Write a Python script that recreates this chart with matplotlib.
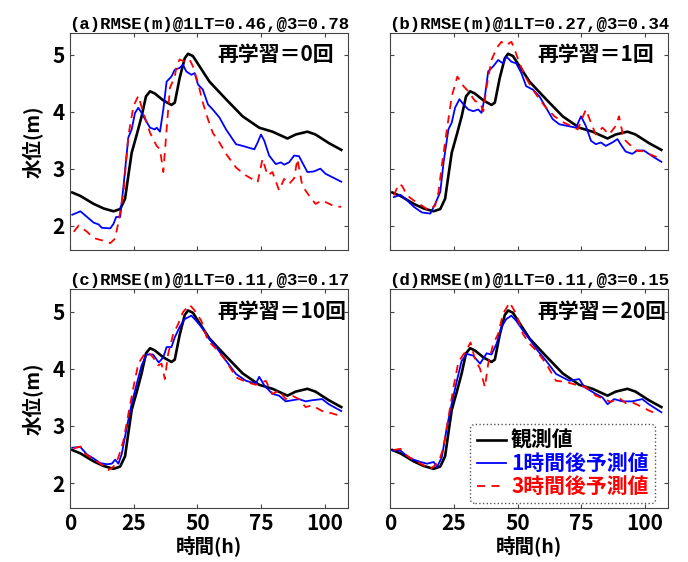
import numpy as np
import matplotlib.pyplot as plt

plt.rcParams['font.family'] = ['Noto Sans CJK JP', 'DejaVu Sans']

# observed water level (same in every panel)
t_obs = [0.9, 4.1, 9.3, 13.2, 17.1, 19.7, 21.6, 22.9, 24.2, 26.2, 28.1, 29.8, 31.4, 33.3,
         36.6, 39.8, 41.1, 43.0, 45.0, 46.3, 48.2, 50.8, 54.7, 61.2, 67.7, 74.2, 79.4,
         85.3, 88.5, 93.1, 96.3, 101.5, 106.4]
h_obs = [2.58, 2.52, 2.38, 2.30, 2.25, 2.29, 2.47, 2.88, 3.28, 3.60, 3.92, 4.27, 4.36, 4.32,
         4.20, 4.12, 4.16, 4.59, 4.94, 5.02, 4.98, 4.80, 4.53, 4.22, 3.92, 3.72, 3.65,
         3.53, 3.60, 3.65, 3.60, 3.45, 3.33]

# (a) retrain = 0
t_a1 = [0.9, 4.1, 6.7, 9.3, 11.2, 12.5, 15.8, 17.1, 18.1, 19.7, 21.0, 22.9, 24.2, 25.5, 26.8,
        28.1, 29.8, 31.4, 33.3, 34.0, 35.3, 36.6, 37.9, 39.8, 41.1, 43.0, 44.3, 45.6, 47.6,
        48.9, 50.2, 52.1, 54.1, 56.0, 58.6, 61.2, 65.1, 67.7, 72.3, 73.6, 74.9, 76.2, 78.1,
        80.7, 82.7, 84.0, 85.9, 87.9, 89.8, 93.1, 95.6, 98.2, 100.2, 106.4]
h_a1 = [2.19, 2.25, 2.15, 2.05, 2.02, 1.96, 1.95, 2.03, 2.15, 2.15, 2.70, 3.55, 3.69, 3.98, 4.07,
        3.98, 3.84, 3.72, 3.69, 3.72, 3.65, 4.04, 4.53, 4.62, 4.74, 4.77, 4.83, 4.71, 4.65,
        4.68, 4.48, 4.39, 4.13, 4.04, 3.90, 3.69, 3.43, 3.40, 3.34, 3.46, 3.60, 3.49, 3.23,
        3.08, 3.11, 3.07, 3.11, 3.23, 3.22, 2.94, 2.95, 3.00, 2.91, 2.77]
t_a3 = [1.5, 3.4, 6.7, 9.3, 12.5, 15.8, 17.7, 19.0, 21.0, 22.9, 24.9, 26.8, 28.8, 31.4, 34.0,
        35.3, 36.6, 37.9, 39.2, 41.1, 41.8, 43.0, 45.0, 46.9, 48.2, 50.2, 52.1, 54.1, 56.0,
        58.6, 61.2, 65.1, 69.0, 73.6, 75.5, 77.5, 79.4, 82.0, 84.0, 85.9, 87.9, 89.2, 91.1,
        93.7, 96.3, 98.9, 104.1, 106.4]
h_a3 = [1.89, 2.00, 1.89, 1.78, 1.74, 1.69, 1.77, 2.06, 2.59, 3.58, 4.10, 4.28, 3.98, 3.63, 3.40,
        3.34, 2.94, 3.69, 4.42, 4.62, 4.80, 4.92, 4.88, 4.92, 4.80, 4.51, 4.16, 3.87, 3.63,
        3.46, 3.26, 3.02, 2.88, 2.76, 3.17, 2.88, 2.94, 2.62, 2.82, 2.73, 2.83, 3.17, 2.70,
        2.53, 2.38, 2.44, 2.33, 2.33]

# (b) retrain = 1
t_b1 = [1.5, 4.1, 6.7, 9.3, 12.5, 15.8, 17.7, 19.7, 21.0, 22.9, 24.2, 25.5, 27.2, 28.8, 30.7,
        32.6, 34.6, 35.9, 37.2, 38.5, 40.5, 42.4, 44.3, 45.6, 47.6, 49.5, 51.5, 53.4, 56.0,
        58.6, 61.2, 63.8, 66.4, 69.7, 72.9, 74.9, 76.8, 78.8, 80.7, 82.7, 84.6, 87.2, 89.2,
        90.4, 92.4, 95.0, 96.9, 99.5, 102.8, 106.4]
h_b1 = [2.50, 2.54, 2.44, 2.33, 2.23, 2.21, 2.38, 2.59, 3.11, 3.69, 3.81, 4.07, 4.22, 4.13, 4.04,
        4.01, 4.04, 3.98, 4.27, 4.71, 4.80, 4.91, 4.85, 4.97, 4.88, 4.85, 4.68, 4.45, 4.39,
        4.27, 4.07, 3.87, 3.78, 3.75, 3.72, 3.92, 3.75, 3.49, 3.43, 3.46, 3.40, 3.46, 3.52,
        3.43, 3.30, 3.26, 3.32, 3.32, 3.22, 3.12]
t_b3 = [1.5, 3.4, 4.7, 6.7, 9.3, 12.5, 15.1, 17.7, 19.0, 20.3, 22.3, 24.2, 26.4, 28.8, 30.7,
        33.3, 35.3, 36.6, 37.9, 39.8, 41.8, 43.7, 45.6, 47.6, 48.9, 50.8, 53.4, 56.0, 58.6,
        61.2, 64.5, 67.7, 71.0, 73.6, 76.8, 78.8, 80.7, 83.3, 85.9, 88.5, 89.8, 91.7, 94.3,
        96.9, 98.9, 101.5, 104.7]
h_b3 = [2.53, 2.73, 2.70, 2.53, 2.44, 2.35, 2.27, 2.35, 2.59, 3.05, 3.69, 4.27, 4.62, 4.45, 4.36,
        4.19, 4.16, 4.01, 4.45, 4.91, 5.12, 5.23, 5.17, 5.23, 5.09, 4.85, 4.59, 4.39, 4.22,
        4.07, 3.92, 3.82, 3.75, 3.69, 4.04, 3.81, 3.60, 3.72, 3.60, 3.75, 3.92, 3.52, 3.41,
        3.31, 3.31, 3.26, 3.20]

# (c) retrain = 10
t_c1 = [0.9, 4.1, 6.7, 9.3, 11.9, 14.5, 16.4, 17.7, 19.0, 20.3, 22.3, 24.2, 26.2, 28.1, 30.1,
        32.6, 34.8, 36.6, 37.9, 39.8, 41.1, 43.0, 45.0, 47.6, 49.5, 52.1, 54.1, 57.3, 61.2,
        65.1, 69.0, 72.9, 74.2, 76.2, 79.4, 82.0, 84.6, 87.2, 89.8, 92.4, 95.0, 98.9, 101.5,
        106.4]
h_c1 = [2.62, 2.63, 2.50, 2.43, 2.35, 2.33, 2.34, 2.41, 2.34, 2.51, 2.98, 3.39, 3.74, 4.06, 4.25,
        4.25, 4.11, 4.20, 4.38, 4.38, 4.55, 4.73, 4.87, 4.93, 4.84, 4.70, 4.55, 4.38, 4.14,
        3.91, 3.79, 3.74, 3.86, 3.71, 3.56, 3.53, 3.43, 3.45, 3.47, 3.43, 3.45, 3.47, 3.38,
        3.26]
t_c3 = [1.5, 4.1, 6.0, 9.3, 11.9, 15.1, 17.1, 19.0, 21.0, 22.9, 24.9, 26.8, 28.8, 30.7, 32.6,
        34.6, 35.9, 37.2, 38.5, 40.5, 42.4, 44.3, 46.9, 48.9, 51.5, 54.1, 57.3, 61.2, 65.1,
        69.0, 72.9, 76.8, 79.4, 82.0, 84.6, 87.2, 89.8, 92.4, 95.0, 98.9, 102.8, 106.4]
h_c3 = [2.61, 2.64, 2.51, 2.41, 2.34, 2.23, 2.29, 2.45, 2.75, 3.21, 3.68, 4.09, 4.23, 4.29, 4.20,
        4.06, 4.09, 3.82, 4.26, 4.61, 4.78, 4.99, 5.12, 5.02, 4.84, 4.49, 4.35, 4.14, 3.85,
        3.77, 3.72, 3.79, 3.56, 3.62, 3.47, 3.53, 3.47, 3.33, 3.36, 3.26, 3.22, 3.17]

# (d) retrain = 20
t_d1 = [1.2, 4.1, 6.7, 9.3, 11.9, 14.5, 17.1, 18.4, 20.3, 22.3, 24.2, 26.2, 28.1, 30.1, 32.6,
        35.3, 37.9, 39.8, 41.8, 43.7, 45.6, 47.6, 49.5, 52.1, 54.7, 57.3, 61.2, 65.1, 70.3,
        74.2, 76.2, 80.7, 83.3, 85.3, 87.9, 91.1, 95.0, 98.9, 101.5, 106.4]
h_d1 = [2.57, 2.57, 2.47, 2.41, 2.37, 2.34, 2.37, 2.28, 2.45, 2.98, 3.39, 3.79, 4.14, 4.26, 4.23,
        4.09, 4.27, 4.25, 4.44, 4.73, 4.87, 4.93, 4.84, 4.67, 4.52, 4.35, 4.14, 3.91, 3.79,
        3.82, 3.68, 3.56, 3.50, 3.38, 3.47, 3.43, 3.43, 3.47, 3.38, 3.24]
t_d3 = [1.5, 4.1, 6.7, 9.3, 12.5, 15.8, 17.7, 19.7, 21.0, 22.9, 24.9, 26.8, 29.4, 31.6, 33.3,
        35.3, 37.2, 38.5, 40.5, 42.4, 44.3, 46.9, 49.5, 52.1, 54.7, 57.3, 61.2, 65.1, 69.0,
        72.9, 76.8, 80.7, 84.0, 86.6, 89.8, 92.4, 95.6, 98.9, 101.5, 104.7]
h_d3 = [2.58, 2.60, 2.48, 2.40, 2.33, 2.25, 2.31, 2.45, 2.63, 3.15, 3.68, 4.12, 4.29, 4.46, 4.17,
        4.00, 3.68, 4.09, 4.44, 4.61, 4.96, 5.16, 4.96, 4.61, 4.44, 4.32, 4.09, 3.79, 3.77,
        3.72, 3.68, 3.53, 3.47, 3.42, 3.49, 3.40, 3.40, 3.33, 3.27, 3.21]

titles = ["(a)RMSE(m)@1LT=0.46,@3=0.78", "(b)RMSE(m)@1LT=0.27,@3=0.34",
          "(c)RMSE(m)@1LT=0.11,@3=0.17", "(d)RMSE(m)@1LT=0.11,@3=0.15"]
retrain = ["再学習＝0回", "再学習＝1回", "再学習＝10回", "再学習＝20回"]
pred1 = [(t_a1, h_a1), (t_b1, h_b1), (t_c1, h_c1), (t_d1, h_d1)]
pred3 = [(t_a3, h_a3), (t_b3, h_b3), (t_c3, h_c3), (t_d3, h_d3)]

tick_font = ['Liberation Sans Narrow', 'Noto Sans CJK JP', 'DejaVu Sans']

fig = plt.figure(figsize=(6.88, 5.62), dpi=100)
pos = [[0.1017, 0.5552, 0.404, 0.3866], [0.5669, 0.5552, 0.404, 0.3866],
       [0.1017, 0.0966, 0.404, 0.3886], [0.5669, 0.0966, 0.404, 0.3886]]

for i in range(4):
    ax = fig.add_axes(pos[i])
    l0, = ax.plot(t_obs, h_obs, color='black', lw=1.9, label='観測値')
    l1, = ax.plot(pred1[i][0], pred1[i][1], color='#0000ff', lw=1.3, label='1時間後予測値')
    l3, = ax.plot(pred3[i][0], pred3[i][1], color='#ff0000', lw=1.3, ls=(0, (4.5, 3.5)),
                  label='3時間後予測値')
    ax.set_xlim(0, 109)
    ax.set_ylim(1.57, 5.39)
    ax.set_xticks([0, 25, 50, 75, 100])
    ax.set_yticks([2, 3, 4, 5])
    ax.tick_params(direction='in', top=True, right=True, length=3, color='#444444',
                   labelsize=15)
    for lab in ax.get_xticklabels() + ax.get_yticklabels():
        lab.set_family(tick_font)
        lab.set_fontweight('bold')
    for s in ax.spines.values():
        s.set_color('#444444')
        s.set_linewidth(0.8)
    if i < 2:
        ax.set_xticklabels([])
    else:
        ax.set_xlabel('時間(h)', fontsize=14, fontweight='bold', labelpad=1)
    if i % 2 == 1:
        ax.set_yticklabels([])
    else:
        ax.set_ylabel('水位(m)', fontsize=14, fontweight='bold', labelpad=7)
    ax.set_title(titles[i], family=['Liberation Mono', 'DejaVu Sans Mono'],
                 fontweight='bold', fontsize=12.5, pad=3)
    ax.text(0.53, 0.9, retrain[i], transform=ax.transAxes, fontsize=15,
            fontweight='bold', va='center', ha='left')

leg = ax.legend(handles=[l0, l1, l3], loc='lower right',
                prop={'weight': 'bold', 'size': 15}, handlelength=1.4,
                handletextpad=0.25, labelspacing=0.1, borderpad=0.3,
                borderaxespad=0, fancybox=True, framealpha=1,
                bbox_to_anchor=(0.953, 0.02))
leg.get_frame().set_edgecolor('#555555')
leg.get_frame().set_linestyle(':')
for txt, c in zip(leg.get_texts(), ['black', '#0000ff', '#ff0000']):
    txt.set_color(c)

plt.savefig('out.png', dpi=100)
